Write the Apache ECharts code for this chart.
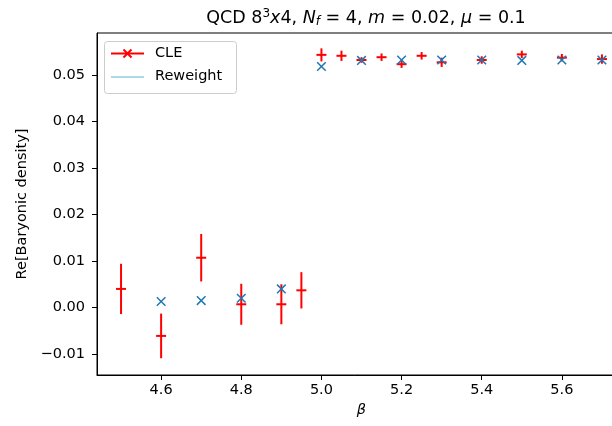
<!DOCTYPE html>
<html>
<head>
<meta charset="utf-8">
<script src="https://cdn.jsdelivr.net/npm/echarts@6/dist/echarts.min.js"></script>
<style>html,body{margin:0;padding:0;background:#fff;}#c{width:612px;height:426px;}</style>
</head>
<body>
<div id="c"></div>
<script>
// CLE data (with error bars)
var cleBeta = [4.5, 4.6, 4.7, 4.8, 4.9, 4.95, 5.0, 5.05, 5.1, 5.15, 5.2, 5.25, 5.3, 5.4, 5.5, 5.6, 5.7];
var cleVal  = [0.0040, -0.0061, 0.0107, 0.0007, 0.0007, 0.0037, 0.0543, 0.0541, 0.0532, 0.0538, 0.0523, 0.0541, 0.0527, 0.0532, 0.0544, 0.0537, 0.0534];
var cleErr  = [0.0054, 0.0048, 0.0051, 0.0044, 0.0043, 0.0039, 0.0014, 0.0011, 0.0006, 0.0008, 0.0008, 0.0008, 0.0010, 0.0008, 0.0008, 0.0008, 0.0010];
// Reweight data
var rwBeta = [4.6, 4.7, 4.8, 4.9, 5.0, 5.1, 5.2, 5.3, 5.4, 5.5, 5.6, 5.7];
var rwVal  = [0.0013, 0.0015, 0.0020, 0.0040, 0.0518, 0.0531, 0.0532, 0.0532, 0.0532, 0.0531, 0.0532, 0.0532];
// Tick labels
var xTicks = [4.6, 4.8, 5.0, 5.2, 5.4, 5.6];
var yTicks = [-0.01, 0.00, 0.01, 0.02, 0.03, 0.04, 0.05];

var FONT = 'DejaVu Sans';
var chart = echarts.init(document.getElementById('c'), null, {renderer: 'canvas'});

var cleData = cleBeta.map(function (b, i) { return [b, cleVal[i], cleErr[i]]; });
var rwData = rwBeta.map(function (b, i) { return [b, rwVal[i]]; });

function fmtY(v) {
  var s = Math.abs(v).toFixed(2);
  return (v < -1e-9 ? '\u2212' : '') + s;
}

var option = {
  animation: false,
  backgroundColor: '#fff',
  title: {
    text: '{n|QCD 8}{sup|3}{i|x}{n|4, }{i|N}{sub|f}{n| = 4, }{i|m}{n| = 0.02, }{i|\u03bc}{n| = 0.1}',
    left: 361, top: 3, textAlign: 'center',
    textStyle: {
      fontWeight: 'normal',
      rich: {
        n: {fontFamily: FONT, fontSize: 17.5, fontWeight: 'normal', color: '#000'},
        i: {fontFamily: FONT, fontSize: 17.5, fontWeight: 'normal', fontStyle: 'italic', color: '#000'},
        sup: {fontFamily: FONT, fontSize: 12, fontWeight: 'normal', color: '#000', verticalAlign: 'top', padding: [0, 0, 8, 0]},
        sub: {fontFamily: FONT, fontSize: 12, fontWeight: 'normal', fontStyle: 'italic', color: '#000', padding: [8, 0, 0, 0]}
      }
    }
  },
  grid: {left: 97, top: 33, width: 529, bottom: 51, outerBoundsMode: 'none', containLabel: false,
    show: true, borderColor: '#000', borderWidth: 1, backgroundColor: 'transparent'},
  xAxis: {
    type: 'value', min: 4.44, max: 5.76,
    name: '\u03b2', nameLocation: 'middle', nameGap: 28,
    nameTextStyle: {fontFamily: FONT, fontSize: 14.5, fontStyle: 'italic', color: '#000'},
    axisLine: {show: true, onZero: false, lineStyle: {color: '#000', width: 1}},
    axisTick: {show: true, inside: false, length: 5, customValues: xTicks, lineStyle: {color: '#000'}},
    axisLabel: {customValues: xTicks, margin: 8, fontFamily: FONT, fontSize: 14.5, color: '#000',
      formatter: function (v) { return v.toFixed(1); }},
    splitLine: {show: false}
  },
  yAxis: {
    type: 'value', min: -0.0145, max: 0.059,
    name: 'Re[Baryonic density]', nameLocation: 'middle', nameGap: 63, nameRotate: 90,
    nameTextStyle: {fontFamily: FONT, fontSize: 14.5, color: '#000'},
    axisLine: {show: true, onZero: false, lineStyle: {color: '#000', width: 1}},
    axisTick: {show: true, inside: false, length: 5, customValues: yTicks, lineStyle: {color: '#000'}},
    axisLabel: {customValues: yTicks, margin: 12, fontFamily: FONT, fontSize: 14.5, color: '#000', formatter: fmtY},
    splitLine: {show: false}
  },
  series: [
    {
      name: 'CLE', type: 'custom', data: cleData, clip: true,
      renderItem: function (params, api) {
        var x = api.value(0), y = api.value(1), e = api.value(2);
        var pTop = api.coord([x, y + e]);
        var pBot = api.coord([x, y - e]);
        var pc = api.coord([x, y]);
        var st = {stroke: '#ff0000', lineWidth: 2};
        return {
          type: 'group',
          children: [
            {type: 'line', shape: {x1: pTop[0], y1: pTop[1], x2: pBot[0], y2: pBot[1]}, style: st},
            {type: 'line', shape: {x1: pc[0] - 5, y1: pc[1], x2: pc[0] + 5, y2: pc[1]}, style: st}
          ]
        };
      },
      z: 2
    },
    {
      name: 'Reweight', type: 'custom', data: rwData, clip: true,
      renderItem: function (params, api) {
        var p = api.coord([api.value(0), api.value(1)]);
        var h = 4.3;
        var st = {stroke: '#1f77b4', lineWidth: 1.5};
        return {
          type: 'group',
          children: [
            {type: 'line', shape: {x1: p[0] - h, y1: p[1] - h, x2: p[0] + h, y2: p[1] + h}, style: st},
            {type: 'line', shape: {x1: p[0] - h, y1: p[1] + h, x2: p[0] + h, y2: p[1] - h}, style: st}
          ]
        };
      },
      z: 3
    }
  ],
  graphic: [
    {type: 'rect', left: 104, top: 41, z: 10,
      shape: {width: 132, height: 52, r: 3},
      style: {fill: 'rgba(255,255,255,0.8)', stroke: '#cccccc', lineWidth: 1}},
    {type: 'line', z: 11, shape: {x1: 111, y1: 53.5, x2: 144, y2: 53.5}, style: {stroke: '#ff0000', lineWidth: 2}},
    {type: 'line', z: 11, shape: {x1: 123.5, y1: 49.5, x2: 131.5, y2: 57.5}, style: {stroke: '#ff0000', lineWidth: 2}},
    {type: 'line', z: 11, shape: {x1: 123.5, y1: 57.5, x2: 131.5, y2: 49.5}, style: {stroke: '#ff0000', lineWidth: 2}},
    {type: 'text', z: 11, left: 155, top: 45.5, style: {text: 'CLE', font: '14.5px "DejaVu Sans"', fill: '#000'}},
    {type: 'line', z: 11, shape: {x1: 111, y1: 77, x2: 144, y2: 77}, style: {stroke: '#add8e6', lineWidth: 2}},
    {type: 'text', z: 11, left: 155, top: 68.5, style: {text: 'Reweight', font: '14.5px "DejaVu Sans"', fill: '#000'}}
  ]
};
chart.setOption(option);
</script>
</body>
</html>
